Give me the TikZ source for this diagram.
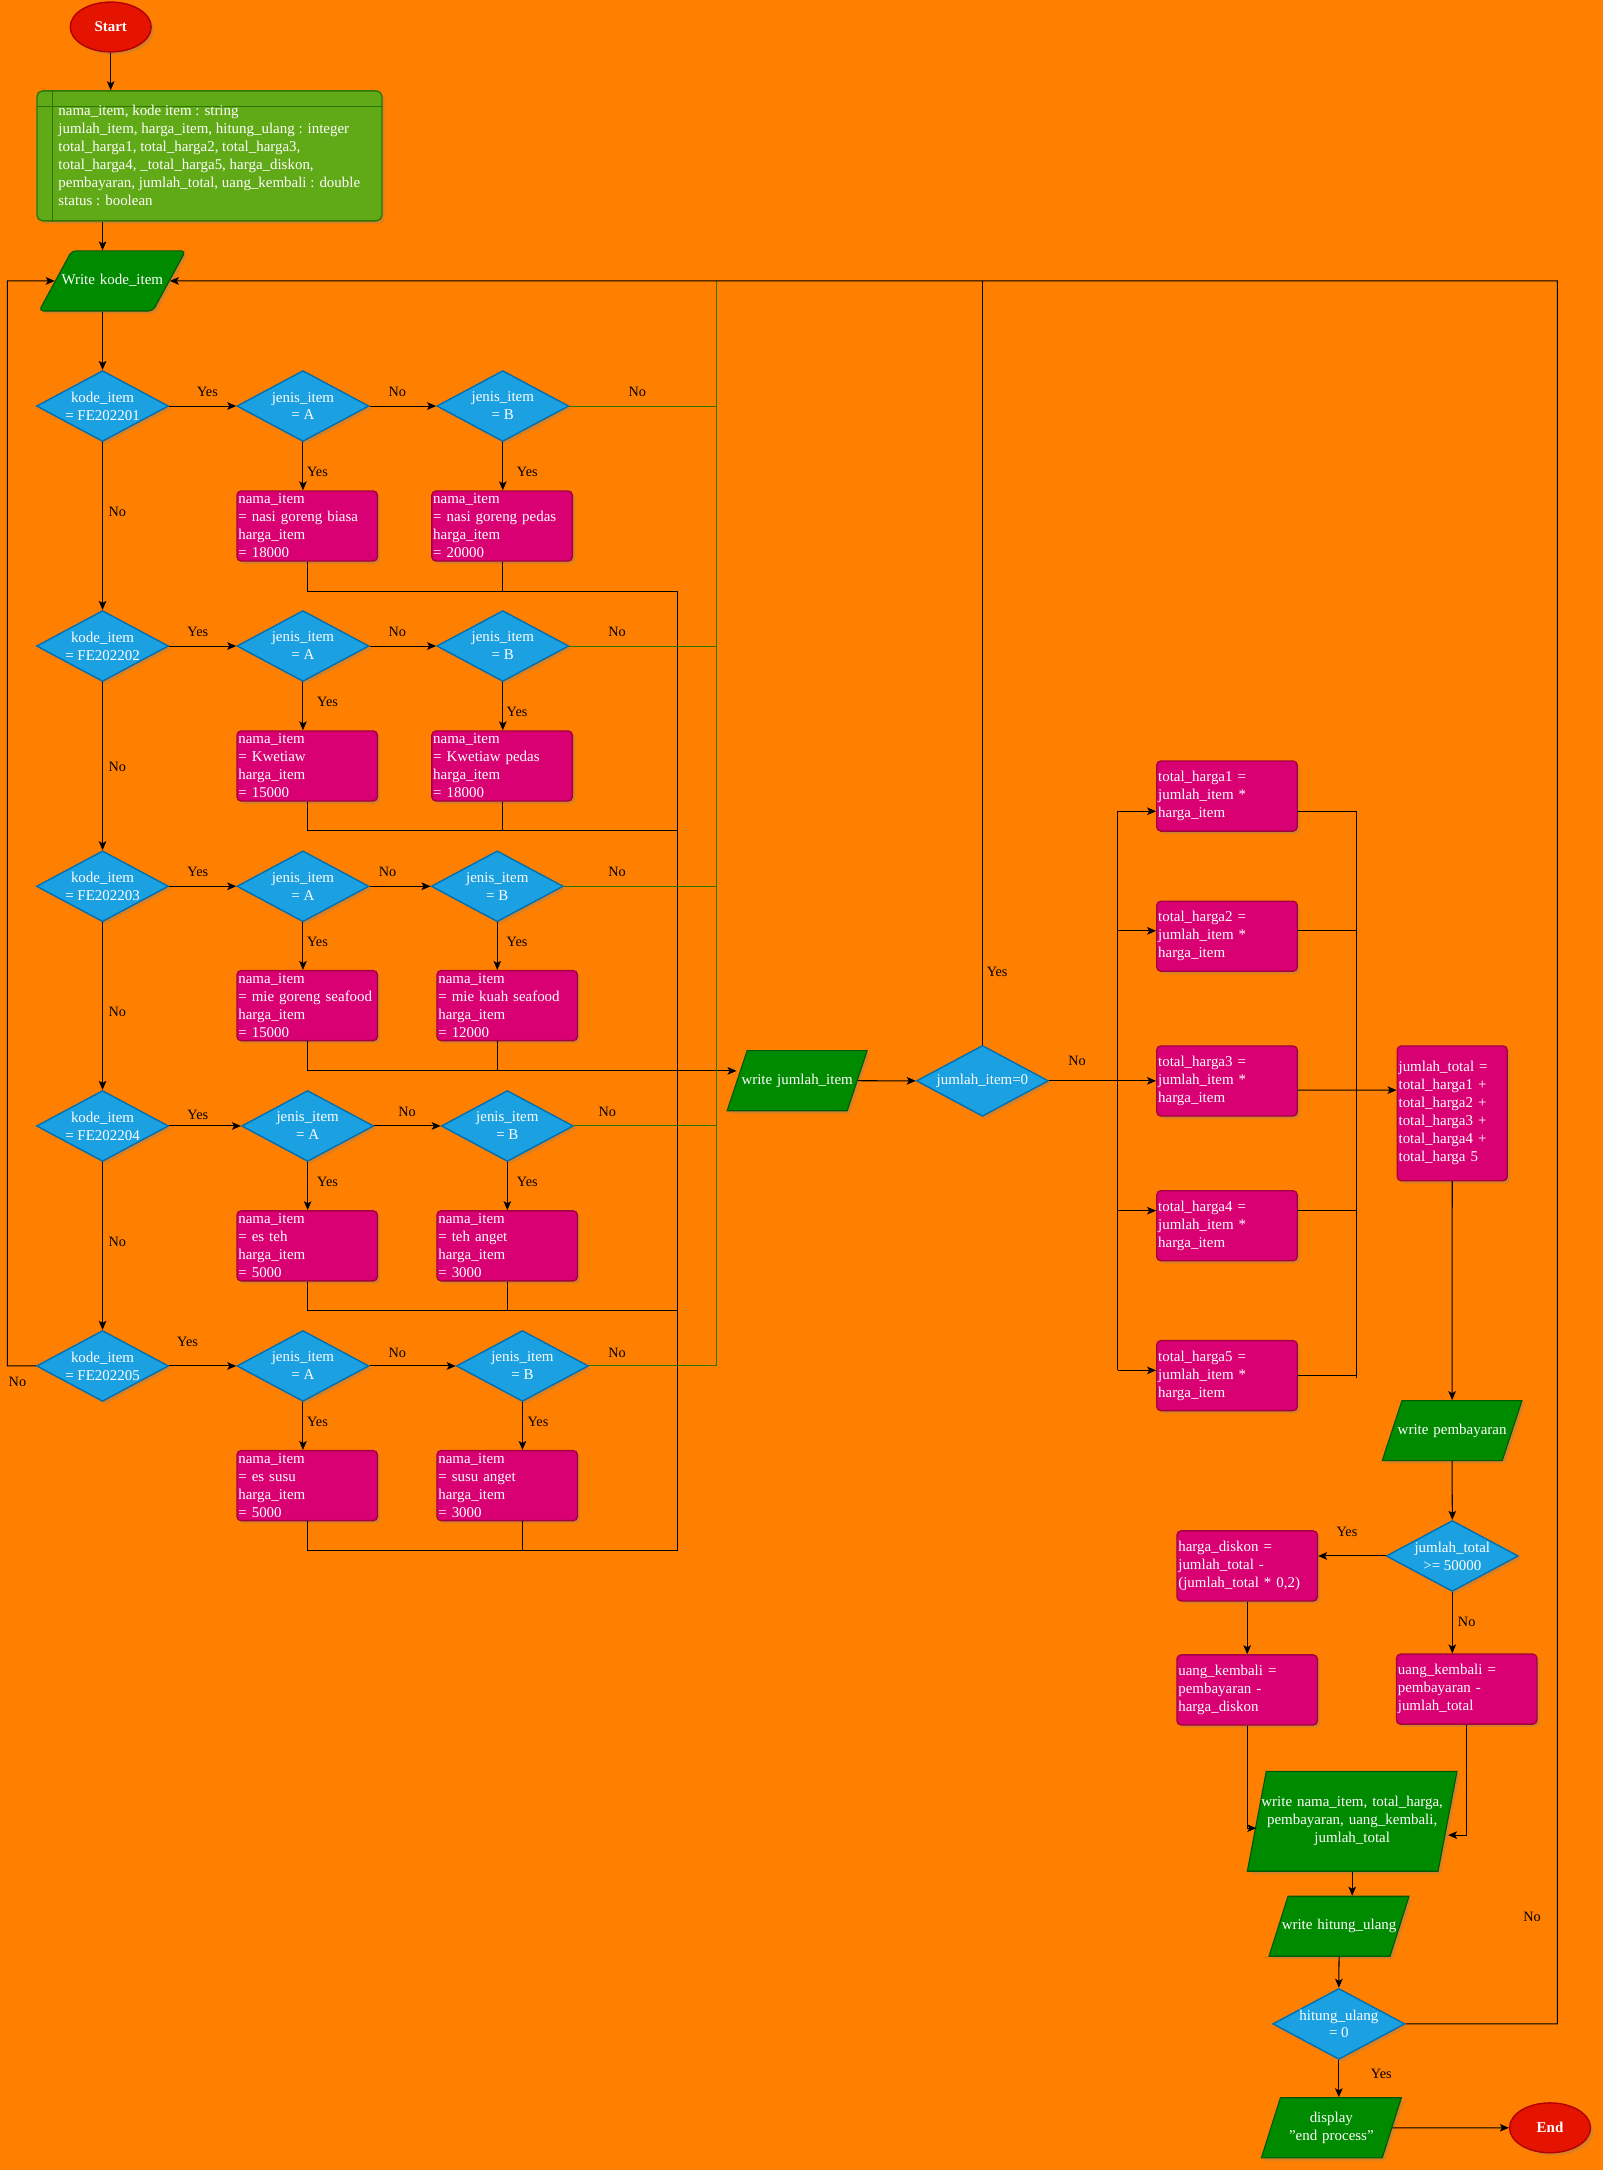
\documentclass[tikz,border=0pt]{standalone}
\usepackage{fontspec}
\setmainfont{Liberation Serif}
\usetikzlibrary{arrows.meta}
\usetikzlibrary{shapes.geometric}
\usetikzlibrary{shadows}

\definecolor{bgorange}{HTML}{FF8000}
\definecolor{declfill}{HTML}{60A917}
\definecolor{decldraw}{HTML}{2D7600}
\definecolor{iofill}{HTML}{008A00}
\definecolor{iodraw}{HTML}{005700}
\definecolor{decfill}{HTML}{1BA1E2}
\definecolor{decdraw}{HTML}{006EAF}
\definecolor{procfill}{HTML}{D80073}
\definecolor{procdraw}{HTML}{A50040}
\definecolor{termfill}{HTML}{E51400}
\definecolor{termdraw}{HTML}{B20000}
\definecolor{noline}{HTML}{2D7600}

% centred line that may run into the slanted parts
\newcommand{\iotext}[1]{\makebox[\linewidth]{#1}}

\tikzset{
	softshadow/.style={drop shadow={shadow xshift=2pt,shadow yshift=-2pt,opacity=0.3}},
	term/.style={ellipse,fill=termfill,draw=termdraw,line width=1pt,text=white,inner sep=0pt,minimum width=58.5pt,minimum height=36pt,font=\fontsize{10.8}{13}\selectfont\bfseries,softshadow},
	declbox/.style={rectangle,rounded corners=4pt,fill=declfill,draw=decldraw,line width=1pt,minimum width=249.3pt,minimum height=93.9pt,softshadow},
	decltext/.style={text=white,align=left,inner sep=0pt,anchor=north west},
	iobox/.style={trapezium,fill=iofill,draw=iodraw,line width=0.8pt,text=white,align=center,inner xsep=0pt,text height=7.5pt,text depth=2.5pt,inner ysep=16.7pt,softshadow},
	decision/.style={diamond,aspect=1.87,fill=decfill,draw=decdraw,line width=1pt,text=white,align=center,inner sep=0pt,minimum width=95.4pt,minimum height=51.2pt,softshadow},
	procbox/.style={rectangle,rounded corners=3pt,fill=procfill,draw=procdraw,line width=1pt,text=white,align=left,inner xsep=1pt,inner ysep=0pt,text width=99.5pt,minimum height=50.6pt,softshadow},
	lbl/.style={text=black,inner sep=0pt,font=\fontsize{10.3}{12}\selectfont},
	conn/.style={line width=0.75pt},
	arr/.style={line width=0.75pt,-{Stealth[length=6.5pt,width=5.5pt,inset=1.5pt]}},
	gline/.style={line width=0.75pt,draw=noline}
}

\begin{document}
\begin{tikzpicture}[x=1pt,y=-1pt,font=\fontsize{10.8}{13}\selectfont]

	% page
	\fill[bgorange] (0,0) rectangle (1158,1568);
	\useasboundingbox (0,0) rectangle (1158,1568);

	% start and declarations
	\node[term] (start) at (80,19.5) {Start};
	\node[declbox] (vars) at (151.35,112.65) {};
	\draw[decldraw,line width=1pt] ([xshift=11.6pt]vars.north west) -- ([xshift=11.6pt]vars.south west);
	\draw[decldraw,line width=1pt] ([yshift=-11.6pt]vars.north west) -- ([yshift=-11.6pt]vars.north east);
	\node[decltext] (vtext) at (42,76) {nama\_item, kode item : string\\
		jumlah\_item, harga\_item, hitung\_ulang : integer\\
		total\_harga1, total\_harga2, total\_harga3,\\
		total\_harga4, \_total\_harga5, harga\_diskon,\\
		pembayaran, jumlah\_total, uang\_kembali : double\\
		status : boolean};
	\node[iobox,trapezium left angle=61.5,trapezium right angle=118.5,text width=58.7pt,rounded corners=3pt] (wk) at (81.15,203) {\iotext{Write kode\_item}};

	% decisions kode_item / jenis_item
	\node[decision] (k1) at (74.1,293.4) {kode\_item\\= FE202201};
	\node[decision] (a1) at (218.9,293.4) {jenis\_item\\= A};
	\node[decision] (b1) at (363.3,293.4) {jenis\_item\\= B};
	\node[decision] (k2) at (74.1,466.8) {kode\_item\\= FE202202};
	\node[decision] (a2) at (218.9,466.8) {jenis\_item\\= A};
	\node[decision] (b2) at (363.3,466.8) {jenis\_item\\= B};
	\node[decision] (k3) at (74.1,640.4) {kode\_item\\= FE202203};
	\node[decision] (a3) at (218.9,640.4) {jenis\_item\\= A};
	\node[decision] (b3) at (359.3,640.4) {jenis\_item\\= B};
	\node[decision] (k4) at (74.1,813.6) {kode\_item\\= FE202204};
	\node[decision] (a4) at (222.3,813.6) {jenis\_item\\= A};
	\node[decision] (b4) at (366.6,813.6) {jenis\_item\\= B};
	\node[decision] (k5) at (74.1,987) {kode\_item\\= FE202205};
	\node[decision] (a5) at (218.9,987) {jenis\_item\\= A};
	\node[decision] (b5) at (377.5,987) {jenis\_item\\= B};

	% menu items
	\node[procbox] (pa1) at (222,380.1) {nama\_item\\= nasi goreng biasa\\harga\_item\\= 18000};
	\node[procbox] (pb1) at (362.8,380.1) {nama\_item\\= nasi goreng pedas\\harga\_item\\= 20000};
	\node[procbox] (pa2) at (222,553.5) {nama\_item\\= Kwetiaw\\harga\_item\\= 15000};
	\node[procbox] (pb2) at (362.8,553.5) {nama\_item\\= Kwetiaw pedas\\harga\_item\\= 18000};
	\node[procbox] (pa3) at (222,726.65) {nama\_item\\= mie goreng seafood\\harga\_item\\= 15000};
	\node[procbox] (pb3) at (366.5,726.65) {nama\_item\\= mie kuah seafood\\harga\_item\\= 12000};
	\node[procbox] (pa4) at (222,900.25) {nama\_item\\= es teh\\harga\_item\\= 5000};
	\node[procbox] (pb4) at (366.5,900.25) {nama\_item\\= teh anget\\harga\_item\\= 3000};
	\node[procbox] (pa5) at (222,1073.5) {nama\_item\\= es susu\\harga\_item\\= 5000};
	\node[procbox] (pb5) at (366.5,1073.5) {nama\_item\\= susu anget\\harga\_item\\= 3000};

	% junction points
	\coordinate (m1) at (489.2,427.2);
	\coordinate (m2) at (489.2,600.3);
	\coordinate (m3) at (489.2,773.8);
	\coordinate (m4) at (489.2,947.1);
	\coordinate (m5) at (489.2,1120.5);
	\coordinate (g1) at (517.9,293.4);
	\coordinate (g2) at (517.9,466.8);
	\coordinate (g3) at (517.9,640.4);
	\coordinate (g4) at (517.9,813.6);
	\coordinate (g5) at (517.9,987);
	\coordinate (gtop) at (517.9,203);
	\coordinate (loopl) at (5.3,203);
	\coordinate (loopr) at (1125.3,203);

	% right part
	\node[iobox,trapezium left angle=71.6,trapezium right angle=108.4,text width=72.3pt] (wj) at (576,780.9) {\iotext{write jumlah\_item}};
	\node[decision] (jdec) at (709.9,781) {jumlah\_item=0};
	\node[procbox] (t1) at (886.6,575.2) {total\_harga1 =\\jumlah\_item *\\harga\_item};
	\node[procbox] (t2) at (886.6,676.5) {total\_harga2 =\\jumlah\_item *\\harga\_item};
	\node[procbox] (t3) at (886.6,781.1) {total\_harga3 =\\jumlah\_item *\\harga\_item};
	\node[procbox] (t4) at (886.6,885.7) {total\_harga4 =\\jumlah\_item *\\harga\_item};
	\node[procbox] (t5) at (886.6,994) {total\_harga5 =\\jumlah\_item *\\harga\_item};
	\node[procbox,text width=77.5pt,minimum height=97.4pt] (jt) at (1049.35,804.5) {jumlah\_total =\\total\_harga1 +\\total\_harga2 +\\total\_harga3 +\\total\_harga4 +\\total\_harga 5};
	\node[iobox,trapezium left angle=71.8,trapezium right angle=108.2,text width=72.5pt,inner ysep=16.65pt] (wp) at (1049.25,1033.75) {\iotext{write pembayaran}};
	\node[decision] (jcond) at (1049.4,1124.3) {jumlah\_total\\>= 50000};
	\node[procbox] (hd) at (901.2,1131.5) {harga\_diskon =\\jumlah\_total -\\(jumlah\_total * 0,2)};
	\node[procbox] (uk1) at (901.2,1221.1) {uang\_kembali =\\pembayaran -\\harga\_diskon};
	\node[procbox] (uk2) at (1059.8,1220.55) {uang\_kembali =\\pembayaran -\\jumlah\_total};
	\node[iobox,trapezium left angle=79.25,trapezium right angle=100.75,text width=124.1pt,text depth=28.5pt,inner ysep=18.1pt] (wn) at (977.05,1316) {\iotext{write nama\_item, total\_harga,}\\\iotext{pembayaran, uang\_kembali,}\\\iotext{jumlah\_total}};
	\node[iobox,trapezium left angle=72.4,trapezium right angle=107.6,text width=73.7pt,inner ysep=16.65pt] (wh) at (967.55,1391.85) {\iotext{write hitung\_ulang}};
	\node[decision] (hu) at (967.4,1462.4) {hitung\_ulang\\= 0};
	\node[iobox,trapezium left angle=72.4,trapezium right angle=107.6,text width=73.6pt,text depth=15.5pt,inner ysep=10.2pt] (disp) at (962,1537.5) {\iotext{display}\\\iotext{"end process"}};
	\node[term] (endn) at (1120,1537.5) {End};

	\coordinate (dv1) at (807.6,586.2);
	\coordinate (dv2) at (807.6,672.6);
	\coordinate (dv3) at (807.6,781);
	\coordinate (dv4) at (807.6,874.8);
	\coordinate (dv5) at (807.6,990.2);
	\coordinate (rv1) at (980.5,586.2);
	\coordinate (rv2) at (980.5,672.6);
	\coordinate (rv4) at (980.5,874.8);
	\coordinate (rv5) at (980.5,994.2);
	\coordinate (rvb) at (980.5,995.8);

	% top arrows
	\draw[arr] (start.south) -- (start.south |- vars.north);
	\draw[arr] (k1 |- vars.south) -- (k1 |- wk.north);
	\draw[arr] (k1 |- wk.south) -- (k1.north);

	% kode_item chain
	\draw[arr] (k1.south) -- (k2.north);
	\draw[arr] (k2.south) -- (k3.north);
	\draw[arr] (k3.south) -- (k4.north);
	\draw[arr] (k4.south) -- (k5.north);
	\draw[arr] (k5.west) -| (loopl) -- (wk.west);

	% yes to jenis_item, no to jenis B
	\draw[arr] (k1.east) -- (a1.west);
	\draw[arr] (a1.east) -- (b1.west);
	\draw[arr] (k2.east) -- (a2.west);
	\draw[arr] (a2.east) -- (b2.west);
	\draw[arr] (k3.east) -- (a3.west);
	\draw[arr] (a3.east) -- (b3.west);
	\draw[arr] (k4.east) -- (a4.west);
	\draw[arr] (a4.east) -- (b4.west);
	\draw[arr] (k5.east) -- (a5.west);
	\draw[arr] (a5.east) -- (b5.west);

	% yes down to items
	\draw[arr] (a1.south) -- (a1.south |- pa1.north);
	\draw[arr] (b1.south) -- (b1.south |- pb1.north);
	\draw[arr] (a2.south) -- (a2.south |- pa2.north);
	\draw[arr] (b2.south) -- (b2.south |- pb2.north);
	\draw[arr] (a3.south) -- (a3.south |- pa3.north);
	\draw[arr] (b3.south) -- (b3.south |- pb3.north);
	\draw[arr] (a4.south) -- (a4.south |- pa4.north);
	\draw[arr] (b4.south) -- (b4.south |- pb4.north);
	\draw[arr] (a5.south) -- (a5.south |- pa5.north);
	\draw[arr] (b5.south) -- (b5.south |- pb5.north);

	% items merge
	\draw[conn] (pa1.south) |- (m1);
	\draw[conn] (b1 |- pb1.south) -- (b1 |- m1);
	\draw[conn] (pa2.south) |- (m2);
	\draw[conn] (b2 |- pb2.south) -- (b2 |- m2);
	\draw[conn] (pa3.south) |- (m3);
	\draw[conn] (b3 |- pb3.south) -- (b3 |- m3);
	\draw[conn] (pa4.south) |- (m4);
	\draw[conn] (b4 |- pb4.south) -- (b4 |- m4);
	\draw[conn] (pa5.south) |- (m5);
	\draw[conn] (b5 |- pb5.south) -- (b5 |- m5);
	\draw[conn] (m1) -- (m5);
	\draw[arr] (m3) -- (wj.west |- m3);

	% no from jenis B, back to top
	\draw[gline] (b1.east) -- (g1);
	\draw[gline] (b2.east) -- (g2);
	\draw[gline] (b3.east) -- (g3);
	\draw[gline] (b4.east) -- (g4);
	\draw[gline] (b5.east) -- (g5);
	\draw[gline] (g5) -- (gtop);

	% jumlah_item
	\draw[arr] (wj.east) -- (jdec.west);
	\draw[conn] (jdec.north) -- (jdec.north |- loopr);
	\draw[conn] (jdec.east) -- (dv3);
	\draw[conn] (dv1) -- (dv5);
	\draw[arr] (dv1) -- (dv1 -| t1.west);
	\draw[arr] (dv2) -- (dv2 -| t2.west);
	\draw[arr] (dv3) -- (dv3 -| t3.west);
	\draw[arr] (dv4) -- (dv4 -| t4.west);
	\draw[arr] (dv5) -- (dv5 -| t5.west);
	\draw[conn] (rv1 -| t1.east) -- (rv1);
	\draw[conn] (rv2 -| t2.east) -- (rv2);
	\draw[conn] (rv4 -| t4.east) -- (rv4);
	\draw[conn] (rv5 -| t5.east) -- (rv5);
	\draw[conn] (rv1) -- (rvb);
	\draw[arr] ([yshift=-6.6pt]t3.east) -- ([yshift=16.8pt]jt.west);

	% payment
	\draw[arr] (jt.south) -- (wp.north);
	\draw[arr] (wp.south) -- (jcond.north);
	\draw[arr] (jcond.west) -- (hd.east |- jcond.west);
	\draw[arr] (hd.south) -- (uk1.north);
	\draw[arr] (jcond.south) -- (jcond.south |- uk2.north);
	\draw[arr] (uk1.south) |- ([yshift=-5pt]wn.west);
	\draw[arr] (uk2.south) |- ([yshift=-10pt]wn.east);
	\draw[arr] (wn.south) -- (wn.south |- wh.north);
	\draw[arr] (wh.south) -- (hu.north);
	\draw[arr] (hu.south) -- (hu.south |- disp.north);
	\draw[arr] (disp.east) -- (endn.west);
	\draw[arr] (hu.east) -| (loopr) -- (wk.east);

	% labels
	\node[lbl] (y1k) at (149.9,283.5) {Yes};
	\node[lbl] (n1a) at (287.1,283.5) {No};
	\node[lbl] (n1b) at (460.5,283.5) {No};
	\node[lbl] (y1a) at (229.4,341.3) {Yes};
	\node[lbl] (y1b) at (381,341.3) {Yes};
	\node[lbl] (n1k) at (84.7,370) {No};
	\node[lbl] (y2k) at (142.9,456.8) {Yes};
	\node[lbl] (n2a) at (287.1,456.8) {No};
	\node[lbl] (n2b) at (445.8,456.8) {No};
	\node[lbl] (y2a) at (236.7,507.4) {Yes};
	\node[lbl] (y2b) at (373.6,514.6) {Yes};
	\node[lbl] (n2k) at (84.7,554.4) {No};
	\node[lbl] (y3k) at (142.9,630.2) {Yes};
	\node[lbl] (n3a) at (280.1,630.2) {No};
	\node[lbl] (n3b) at (445.8,630.2) {No};
	\node[lbl] (y3a) at (229.4,680.9) {Yes};
	\node[lbl] (y3b) at (373.6,680.9) {Yes};
	\node[lbl] (n3k) at (84.7,731.2) {No};
	\node[lbl] (y4k) at (142.9,805.8) {Yes};
	\node[lbl] (n4a) at (294.1,803.7) {No};
	\node[lbl] (n4b) at (438.8,803.7) {No};
	\node[lbl] (y4a) at (236.7,854.2) {Yes};
	\node[lbl] (y4b) at (381,854.2) {Yes};
	\node[lbl] (n4k) at (84.7,897.6) {No};
	\node[lbl] (y5k) at (135.5,969.8) {Yes};
	\node[lbl] (n5a) at (287.1,977.3) {No};
	\node[lbl] (n5b) at (445.8,977.3) {No};
	\node[lbl] (y5a) at (229.4,1027.5) {Yes};
	\node[lbl] (y5b) at (388.7,1027.5) {Yes};
	\node[lbl] (n5k) at (12.6,998.8) {No};
	\node[lbl] (yj) at (720.5,702.3) {Yes};
	\node[lbl] (nj) at (778.2,766.7) {No};
	\node[lbl] (yc) at (973.3,1106.9) {Yes};
	\node[lbl] (nc) at (1059.8,1171.9) {No};
	\node[lbl] (nh) at (1107,1385.1) {No};
	\node[lbl] (yh) at (998.1,1498.3) {Yes};

\end{tikzpicture}
\end{document}
